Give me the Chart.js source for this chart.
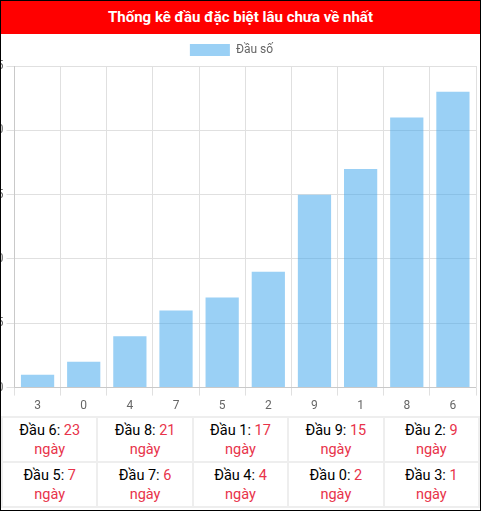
<!DOCTYPE html>
<html><head><meta charset="utf-8">
<script src="https://cdn.jsdelivr.net/npm/chart.js@4"></script>
<style>
body{margin:0;font-family:Roboto,sans-serif;}
#wrap{width:479px;height:509px;border:1px solid #000;overflow:hidden;position:relative;background:#fff}
#title{background:#f00;color:#fff;font-weight:bold;font-size:15px;text-align:center;height:33px;line-height:33px;}
#cw{position:relative;width:493px;height:382px;margin-left:-14px;}
table{border-collapse:collapse;width:479px;table-layout:fixed}
td{border:2px solid #eee;text-align:center;font-size:14.5px;height:43px;padding:0;line-height:19px;color:#000}
td span{color:#e8334a}
</style></head><body>
<div id="wrap">
<div id="title">Thống kê đầu đặc biệt lâu chưa về nhất</div>
<div id="cw"><canvas id="c"></canvas></div>
<table id="t"></table>
</div>
<script>
const categories=["3","0","4","7","5","2","9","1","8","6"];
const values=[1,2,4,6,7,9,15,17,21,23];
const yTicks=[0,5,10,15,20,25];
const tableHeads=["6","8","1","9","2","5","7","4","0","3"];
const tableDays=[23,21,17,15,9,7,6,4,2,1];
let h="";
for(let r=0;r<2;r++){h+="<tr>";for(let i=0;i<5;i++){const k=r*5+i;h+=`<td>Đầu ${tableHeads[k]}: <span>${tableDays[k]}<br>ngày</span></td>`;}h+="</tr>";}
document.getElementById('t').innerHTML=h;
new Chart(document.getElementById('c'),{type:'bar',
data:{labels:categories,datasets:[{label:'Đầu số',data:values,backgroundColor:'rgba(54,162,235,0.5)',borderWidth:0,barPercentage:0.9,categoryPercentage:0.8}]},
options:{responsive:true,maintainAspectRatio:false,animation:false,
layout:{padding:{right:4}},
plugins:{legend:{labels:{font:{family:'Roboto',size:12},color:'#666',boxWidth:40,boxHeight:12}}},
scales:{y:{min:0,max:25,ticks:{stepSize:5,color:'#666',font:{family:'Roboto',size:12}},grid:{color:'#e0e0e0'}},
x:{ticks:{color:'#666',font:{family:'Roboto',size:12}},grid:{color:'#e0e0e0'}}}}});
</script>
</body></html>
